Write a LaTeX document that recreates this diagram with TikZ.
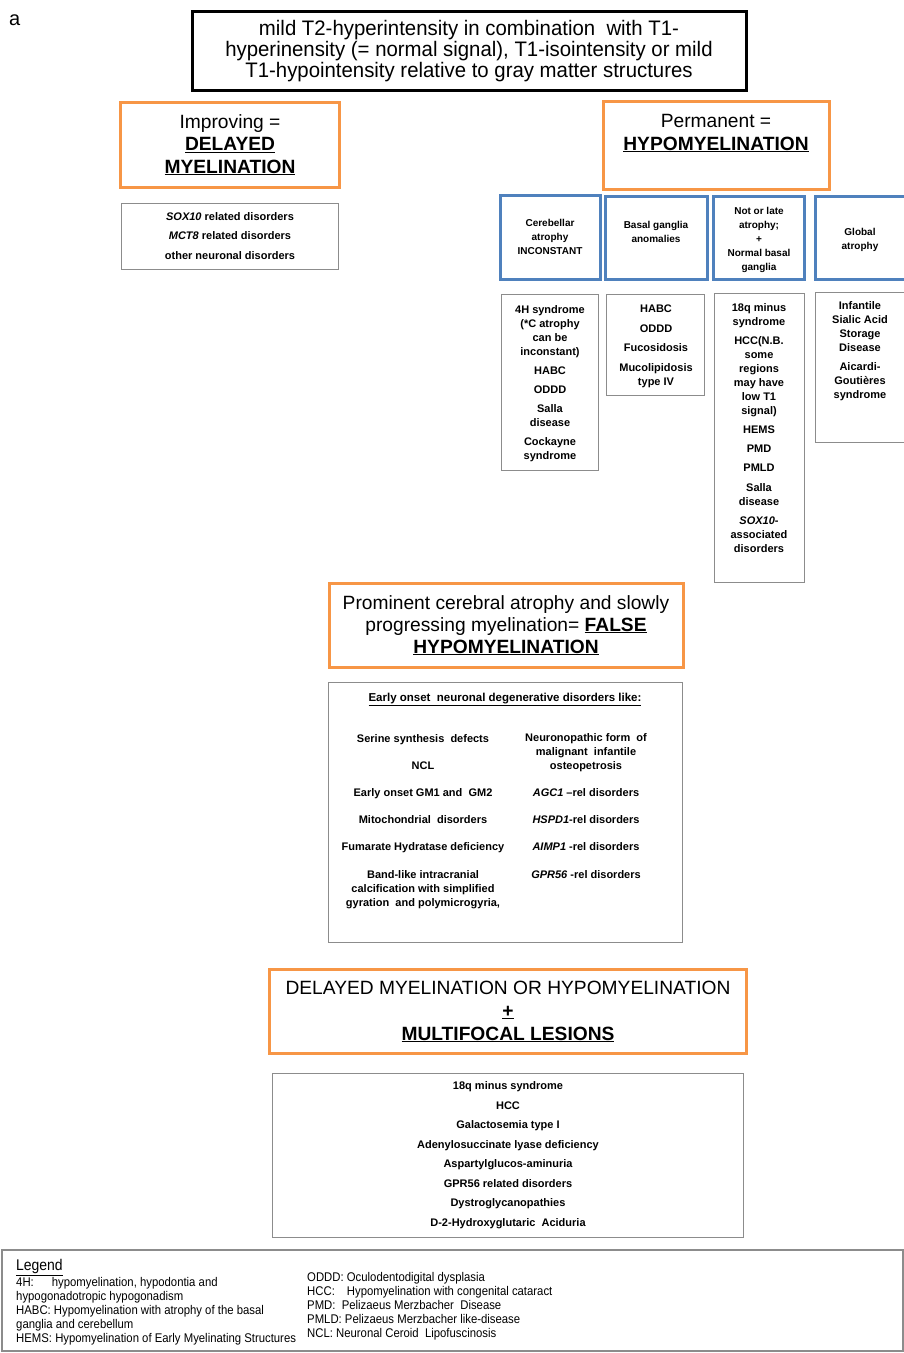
\documentclass[tikz,border=0pt]{standalone}
\usepackage{fontspec}
\setmainfont{Liberation Sans}
\newfontfamily\nr[FakeStretch=0.9]{Liberation Sans}
\newfontfamily\nt[FakeStretch=0.97]{Liberation Sans}
\definecolor{orng}{HTML}{F79646}
\definecolor{blu}{HTML}{4F81BD}
\definecolor{gry}{HTML}{8C8C8C}
\tikzset{
 box/.style={anchor=north west, inner sep=0pt, outer sep=0pt},
 obox/.style={box, draw=orng, line width=3pt},
 bbox/.style={box, draw=blu, line width=3pt},
 gbox/.style={box, draw=gry, line width=1pt},
 kbox/.style={box, draw=black, line width=3pt},
 big/.style={font=\fontsize{19.2}{22}\selectfont, align=center, inner sep=0pt, anchor=base},
 sm/.style={font=\bfseries\fontsize{11}{14}\selectfont, align=center, inner sep=0pt, anchor=base},
 bl/.style={font=\bfseries\fontsize{10}{14}\selectfont, align=center, inner sep=0pt, anchor=base},
 leg/.style={font=\nr\fontsize{12.6}{14}\selectfont, align=left, inner sep=0pt, anchor=base west},
}
\begin{document}
\begin{tikzpicture}[x=1pt,y=-1pt]
\path[use as bounding box, fill=white] (0,0) rectangle (904,1353);
\node[inner sep=0pt, anchor=base west, font=\fontsize{20}{22}\selectfont] (lbl) at (9,25) {a};
% top
\node[kbox, minimum width=554pt, minimum height=79pt] (top) at (192,11) {};
\node[big, font=\nt\fontsize{21}{21}\selectfont] (toptext) at (469,77) {mild T2-hyperintensity in combination\ \ with T1-\\hyperinensity (= normal signal), T1-isointensity or mild\\T1-hypointensity relative to gray matter structures};
% delayed
\node[obox, minimum width=219pt, minimum height=85pt] (imp) at (120,102) {};
\node[big, font=\fontsize{19.2}{22.5}\selectfont] (imptext) at (230,173) {Improving =\\\underline{\textbf{DELAYED}}\\\underline{\textbf{MYELINATION}}};
\node[gbox, minimum width=217pt, minimum height=66pt] (implist) at (121,203) {};
\node[sm, font=\bfseries\fontsize{11}{19.5}\selectfont] (implisttext) at (230,259) {\textit{SOX10} related disorders\\\textit{MCT8} related disorders\\other neuronal disorders};
% permanent
\node[obox, minimum width=226pt, minimum height=88pt] (perm) at (603,101) {};
\node[big, font=\fontsize{19.2}{23}\selectfont] (permtext) at (716,150) {Permanent =\\\underline{\textbf{HYPOMYELINATION}}};
% blue boxes
\node[bbox, minimum width=100pt, minimum height=84pt] (b1) at (500,195) {};
\node[bbox, minimum width=102pt, minimum height=83pt] (b2) at (605,196) {};
\node[bbox, minimum width=91pt, minimum height=83pt] (b3) at (713,196) {};
\node[bbox, minimum width=92pt, minimum height=83pt] (b4) at (815,196) {};
\node[bl] (b1t) at (550,254) {Cerebellar\\atrophy\\INCONSTANT};
\node[bl] (b2t) at (656,242) {Basal ganglia\\anomalies};
\node[bl] (b3t) at (759,270) {Not or late\\atrophy;\\+\\Normal basal\\ganglia};
\node[bl] (b4t) at (860,249) {Global\\atrophy};
% lists
\node[gbox, minimum width=97pt, minimum height=176pt] (l1) at (501,294) {};
\node[gbox, minimum width=98pt, minimum height=101pt] (l2) at (606,294) {};
\node[gbox, minimum width=90pt, minimum height=289pt] (l3) at (714,293) {};
\node[gbox, minimum width=92pt, minimum height=150pt] (l4) at (815,292) {};
\node[sm] (l1t) at (550,459) {4H syndrome\\(*C atrophy\\can be\\inconstant)\\[5pt]HABC\\[5pt]ODDD\\[5pt]Salla\\disease\\[5pt]Cockayne\\syndrome};
\node[sm] (l2t) at (656,385) {HABC\\[5.5pt]ODDD\\[5.5pt]Fucosidosis\\[5.5pt]Mucolipidosis\\type IV};
\node[sm] (l3t) at (759,552) {18q minus\\syndrome\\[5pt]HCC(N.B.\\some\\regions\\may have\\low T1\\signal)\\[5pt]HEMS\\[5.5pt]PMD\\[5pt]PMLD\\[5.5pt]Salla\\disease\\[5pt]\textit{SOX10}-\\associated\\disorders};
\node[sm] (l4t) at (860,398) {Infantile\\Sialic Acid\\Storage\\Disease\\[5pt]Aicardi-\\Goutières\\syndrome};
% false hypomyelination
\node[obox, minimum width=354pt, minimum height=84pt] (false) at (329,583) {};
\node[big] (falset) at (506,653) {Prominent cerebral atrophy and slowly\\progressing myelination= \underline{\textbf{FALSE}}\\\underline{\textbf{HYPOMYELINATION}}};
\node[gbox, minimum width=354pt, minimum height=260pt] (flist) at (328,682) {};
\node[sm, font=\bfseries\fontsize{11.5}{14}\selectfont] (ftitle) at (505,701) {\underline{Early onset\ \ neuronal degenerative disorders like:}};
\node[sm] (fleft) at (423,906) {Serine synthesis\ \ defects\\[13pt]NCL\\[13pt]Early onset GM1 and\ \ GM2\\[13.5pt]Mitochondrial\ \ disorders\\[13pt]Fumarate Hydratase deficiency\\[13.5pt]Band-like intracranial\\calcification with simplified\\gyration\ \ and polymicrogyria,};
\node[sm] (fright) at (586,878) {Neuronopathic form\ \ of\\malignant\ \ infantile\\osteopetrosis\\[13pt]\textit{AGC1} --rel disorders\\[13.5pt]\textit{HSPD1}-rel disorders\\[13pt]\textit{AIMP1} -rel disorders\\[13.5pt]\textit{GPR56} -rel disorders};
% multifocal
\node[obox, minimum width=477pt, minimum height=84pt] (multi) at (269,969) {};
\node[big, font=\fontsize{19.2}{23}\selectfont] (multit) at (508,1040) {DELAYED MYELINATION OR HYPOMYELINATION\\\textbf{\underline{+}}\\\underline{\textbf{MULTIFOCAL LESIONS}}};
\node[gbox, minimum width=471pt, minimum height=164pt] (mlist) at (272,1073) {};
\node[sm, font=\bfseries\fontsize{11}{19.45}\selectfont] (mlistt) at (508,1226) {18q minus syndrome\\HCC\\Galactosemia type I\\Adenylosuccinate lyase deficiency\\Aspartylglucos-aminuria\\GPR56 related disorders\\Dystroglycanopathies\\D-2-Hydroxyglutaric\ \ Aciduria};
% legend
\node[box, draw=gry, line width=1.5pt, minimum width=901pt, minimum height=101pt] (legend) at (2,1250) {};
\node[leg, font=\nr\fontsize{15.5}{18}\selectfont] (legt) at (16,1270.5) {\underline{Legend}};
\node[leg] (legl) at (16,1342) {4H:\hspace{18pt}hypomyelination, hypodontia and\\hypogonadotropic hypogonadism\\HABC: Hypomyelination with atrophy of the basal\\ganglia and cerebellum\\HEMS: Hypomyelination of Early Myelinating Structures};
\node[leg, font=\nr\fontsize{12.6}{13.8}\selectfont] (legr) at (307,1337) {ODDD: Oculodentodigital dysplasia\\HCC:\hspace{12pt}Hypomyelination with congenital cataract\\PMD:\ \ Pelizaeus Merzbacher\ \ Disease\\PMLD: Pelizaeus Merzbacher like-disease\\NCL: Neuronal Ceroid\ \ Lipofuscinosis};
\end{tikzpicture}
\end{document}
